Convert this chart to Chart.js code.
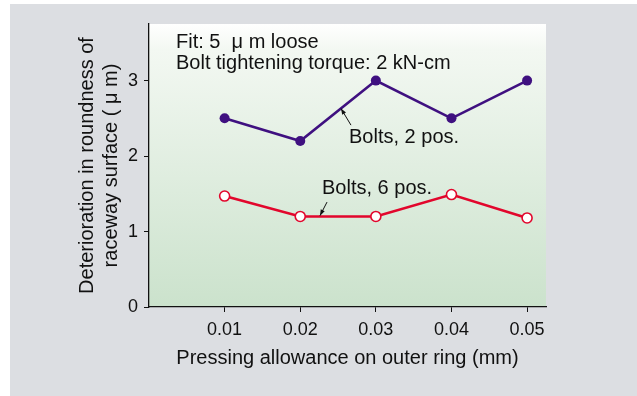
<!DOCTYPE html>
<html lang="en">
<head>
    <meta charset="UTF-8">
    <title>Roundness deterioration</title>
    <script src="https://cdn.jsdelivr.net/npm/chart.js"></script>
    <style>
        html, body { margin: 0; padding: 0; background: #ffffff; }
        canvas { display: block; }
    </style>
</head>
<body>
    <canvas id="grafico" width="637" height="396"></canvas>

    <script>
        // valores
        const allowance = [0.01, 0.02, 0.03, 0.04, 0.05];
        const bolts2 = [2.5, 2.2, 3.0, 2.5, 3.0];
        const bolts6 = [1.47, 1.2, 1.2, 1.49, 1.18];
        const xTicks = [0.01, 0.02, 0.03, 0.04, 0.05];
        const yTicks = [0, 1, 2, 3];

        const FONT = 'Liberation Sans, Arial, Helvetica, sans-serif';

        function pts(ys) {
            return allowance.map((x, i) => ({ x: x, y: ys[i] }));
        }

        // fundo cinza + gradiente da área do gráfico
        const fundo = {
            id: 'fundo',
            beforeDraw(chart) {
                const { ctx, chartArea: a } = chart;
                ctx.save();
                ctx.fillStyle = '#ffffff';
                ctx.fillRect(0, 0, chart.width, chart.height);
                ctx.fillStyle = '#dcdee2';
                ctx.fillRect(10, 4, chart.width - 10, chart.height - 4);
                const g = ctx.createLinearGradient(0, a.top, 0, a.bottom);
                g.addColorStop(0, '#ffffff');
                g.addColorStop(0.09, '#f3f8f2');
                g.addColorStop(1, '#cbe2cc');
                ctx.fillStyle = g;
                ctx.fillRect(a.left, a.top, a.right - a.left, a.bottom - a.top);
                ctx.restore();
            }
        };

        function seta(ctx, x1, y1, x2, y2) {
            ctx.beginPath();
            ctx.moveTo(x1, y1);
            ctx.lineTo(x2, y2);
            ctx.stroke();
            const ang = Math.atan2(y2 - y1, x2 - x1);
            const L = 6, W = 2.2;
            ctx.beginPath();
            ctx.moveTo(x2, y2);
            ctx.lineTo(x2 - L * Math.cos(ang) + W * Math.sin(ang), y2 - L * Math.sin(ang) - W * Math.cos(ang));
            ctx.lineTo(x2 - L * Math.cos(ang) - W * Math.sin(ang), y2 - L * Math.sin(ang) + W * Math.cos(ang));
            ctx.closePath();
            ctx.fill();
        }

        // textos e setas dentro do gráfico
        const anotacoes = {
            id: 'anotacoes',
            afterDatasetsDraw(chart) {
                const { ctx, scales: { x, y } } = chart;
                ctx.save();
                ctx.fillStyle = '#111111';
                ctx.strokeStyle = '#111111';
                ctx.lineWidth = 1;
                ctx.font = '20px ' + FONT;
                ctx.textAlign = 'left';
                ctx.textBaseline = 'middle';
                ctx.fillText('Fit: 5  \u03bc m loose', x.getPixelForValue(0.00357), y.getPixelForValue(3.51));
                ctx.fillText('Bolt tightening torque: 2 kN-cm', x.getPixelForValue(0.00357), y.getPixelForValue(3.23));
                ctx.fillText('Bolts, 2 pos.', x.getPixelForValue(0.02645), y.getPixelForValue(2.24));
                ctx.fillText('Bolts, 6 pos.', x.getPixelForValue(0.02288), y.getPixelForValue(1.577));
                seta(ctx, x.getPixelForValue(0.02671), y.getPixelForValue(2.41),
                          x.getPixelForValue(0.02539), y.getPixelForValue(2.63));
                seta(ctx, x.getPixelForValue(0.02354), y.getPixelForValue(1.39),
                          x.getPixelForValue(0.02261), y.getPixelForValue(1.21));
                ctx.restore();
            }
        };

        const ctx = document.getElementById('grafico').getContext('2d');
        new Chart(ctx, {
            type: 'line',
            data: {
                datasets: [{
                    label: 'Bolts, 2 pos.',
                    data: pts(bolts2),
                    borderColor: '#3f1080',
                    backgroundColor: '#3f1080',
                    borderWidth: 2.6,
                    pointRadius: 5,
                    pointBorderWidth: 0,
                    tension: 0
                }, {
                    label: 'Bolts, 6 pos.',
                    data: pts(bolts6),
                    borderColor: '#e2062c',
                    backgroundColor: '#ffffff',
                    pointBackgroundColor: '#ffffff',
                    pointBorderColor: '#e2062c',
                    borderWidth: 2.6,
                    pointRadius: 5,
                    pointBorderWidth: 1.6,
                    tension: 0
                }]
            },
            options: {
                responsive: false,
                animation: false,
                devicePixelRatio: 1,
                layout: { padding: { left: 0, top: 24, right: 91, bottom: 0 } },
                plugins: {
                    legend: { display: false },
                    tooltip: { enabled: false }
                },
                scales: {
                    x: {
                        type: 'linear',
                        min: 0,
                        max: 0.0525,
                        afterBuildTicks: (s) => { s.ticks = xTicks.map(v => ({ value: v })); },
                        afterFit: (s) => { s.height = 89; },
                        grid: { drawOnChartArea: false, tickLength: 5, color: '#111111', lineWidth: 1 },
                        border: { display: true, color: '#111111', width: 1.3 },
                        ticks: {
                            color: '#111111',
                            padding: 7,
                            maxRotation: 0,
                            font: { family: FONT, size: 18 },
                            callback: (v) => v.toFixed(2)
                        },
                        title: {
                            display: true,
                            text: 'Pressing allowance on outer ring (mm)',
                            color: '#111111',
                            font: { family: FONT, size: 20 },
                            padding: { top: 0, bottom: 26 }
                        }
                    },
                    y: {
                        min: 0,
                        max: 3.75,
                        afterBuildTicks: (s) => { s.ticks = yTicks.map(v => ({ value: v })); },
                        afterFit: (s) => { s.width = 149; },
                        grid: { drawOnChartArea: false, tickLength: 5, color: '#111111', lineWidth: 1 },
                        border: { display: true, color: '#111111', width: 1.3 },
                        ticks: {
                            color: '#111111',
                            padding: 6,
                            font: { family: FONT, size: 18 }
                        },
                        title: {
                            display: true,
                            text: ['Deterioration in roundness of', 'raceway surface ( \u03bc m)'],
                            color: '#111111',
                            font: { family: FONT, size: 20, lineHeight: 1.2 },
                            padding: { top: 75, bottom: 0 }
                        }
                    }
                }
            },
            plugins: [fundo, anotacoes]
        });
    </script>
</body>
</html>
